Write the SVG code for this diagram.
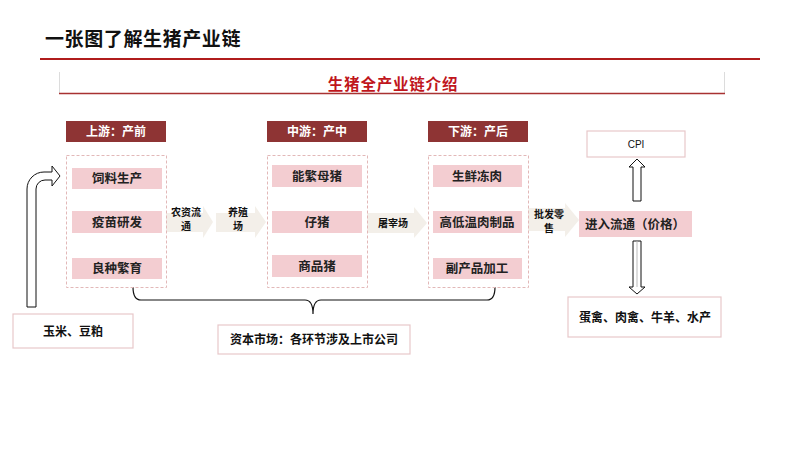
<svg xmlns="http://www.w3.org/2000/svg" width="800" height="450" viewBox="0 0 800 450">
<defs>
<style>
.cjk{font-family:"Noto Sans CJK SC","Liberation Sans",sans-serif;}
.hdr rect{fill:#8e3434;}
.hdr text{fill:#fff;font-size:12px;font-weight:bold;text-anchor:middle;}
.dash{fill:none;stroke:#e2b8b8;stroke-width:1;stroke-dasharray:3,2;}
.pink rect{fill:#f3cdd1;}
.pink text{fill:#222;font-size:12.5px;font-weight:bold;text-anchor:middle;}
.flow path{fill:#f3efe9;}
.flow text{fill:#111;font-size:10px;font-weight:bold;text-anchor:middle;}
.wbox rect{fill:#fff;stroke:#e8c8ca;stroke-width:1.2;}
.wbox text{fill:#111;font-size:12px;font-weight:bold;text-anchor:middle;}
.hollow{fill:#fff;stroke:#111;stroke-width:1;}
</style>
</defs>
<rect width="800" height="450" fill="#fff"/>
<g id="title" class="cjk">
<text x="45" y="46" font-size="19" font-weight="bold" fill="#111" letter-spacing="0.6">一张图了解生猪产业链</text>
<line x1="40" y1="59" x2="760" y2="59" stroke="#b01c1c" stroke-width="2.2"/>
</g>
<g id="subtitle" class="cjk">
<line x1="59.5" y1="72" x2="59.5" y2="93" stroke="#dcdcdc"/>
<line x1="724.5" y1="72" x2="724.5" y2="93" stroke="#dcdcdc"/>
<line x1="59" y1="93.5" x2="725" y2="93.5" stroke="#a83232" stroke-width="1.3"/>
<text x="393" y="90" font-size="15.5" font-weight="bold" fill="#c0161c" text-anchor="middle" letter-spacing="0.8">生猪全产业链介绍</text>
</g>
<g id="connectors" class="cjk">
<g class="flow">
<path d="M166,213 H203 V206 L213,222 L203,238 V232 H166 Z"/>
<text x="186" y="216">农资流</text><text x="186" y="230">通</text>
<path d="M216,213 H255 V206 L266,222 L255,238 V232 H216 Z"/>
<text x="238" y="216">养殖</text><text x="238" y="230">场</text>
<path d="M367,213 H414 V207 L427,223 L414,238 V233 H367 Z"/>
<text x="393" y="227">屠宰场</text>
<path d="M528,208 H565 V203 L579,220 L565,237 V231 H528 Z"/>
<text x="549" y="218">批发零</text><text x="549" y="232">售</text>
</g>
<path class="hollow" d="M27,307 V189 A17,17 0 0 1 44,172 H52 V166 L60,176 L52,186 V180 H45 A9,9 0 0 0 36,189 V307 Z"/>
<path class="hollow" d="M633,201 V167 H629 L637,159 L645,167 H641 V201 Z"/>
<path class="hollow" d="M633,241 H641 V287 H645 L637,294 L629,287 H633 Z"/>
<line x1="637" y1="241" x2="637" y2="287" stroke="#bbb" stroke-width="1"/>
<path d="M133,287 Q133,300 141,300 H305 Q313,300 313,314 Q313,300 321,300 H487 Q495,300 495,287" fill="none" stroke="#111" stroke-width="1.2"/>
</g>
<g id="upstream" class="cjk">
<g class="hdr"><rect x="66" y="121" width="100" height="21"/><text x="116" y="136">上游：产前</text></g>
<rect class="dash" x="66.5" y="155.5" width="100" height="132"/>
<g class="pink" id="feed"><rect x="72" y="168" width="90" height="21"/><text x="117" y="183">饲料生产</text></g>
<g class="pink" id="vaccine"><rect x="72" y="211" width="90" height="22"/><text x="117" y="227">疫苗研发</text></g>
<g class="pink" id="breed"><rect x="72" y="258" width="90" height="21"/><text x="117" y="273">良种繁育</text></g>
</g>
<g id="midstream" class="cjk">
<g class="hdr"><rect x="267" y="121" width="100" height="21"/><text x="317" y="136">中游：产中</text></g>
<rect class="dash" x="267.5" y="155.5" width="100" height="132"/>
<g class="pink" id="sow"><rect x="272" y="165" width="90" height="22"/><text x="317" y="181">能繁母猪</text></g>
<g class="pink" id="piglet"><rect x="272" y="211" width="90" height="22"/><text x="317" y="227">仔猪</text></g>
<g class="pink" id="hog"><rect x="272" y="255" width="90" height="22"/><text x="317" y="271">商品猪</text></g>
</g>
<g id="downstream" class="cjk">
<g class="hdr"><rect x="428" y="121" width="100" height="21"/><text x="478" y="136">下游：产后</text></g>
<rect class="dash" x="428.5" y="155.5" width="100" height="132"/>
<g class="pink" id="fresh"><rect x="433" y="165" width="89" height="22"/><text x="477" y="181">生鲜冻肉</text></g>
<g class="pink" id="meatprod"><rect x="433" y="211" width="89" height="22"/><text x="477" y="227">高低温肉制品</text></g>
<g class="pink" id="byprod"><rect x="433" y="258" width="89" height="21"/><text x="477" y="273">副产品加工</text></g>
</g>
<g id="circulation" class="cjk pink"><rect x="579" y="211" width="113" height="26"/><text x="635" y="229" font-size="13">进入流通（价格）</text></g>
<g id="cpi" class="wbox"><rect x="587" y="131" width="98" height="26"/><text x="636" y="148" style="font-family:'Liberation Sans',Arial,sans-serif;font-size:10px;font-weight:normal;fill:#111">CPI</text></g>
<g id="meats" class="wbox cjk"><rect x="568" y="297" width="153" height="40"/><text x="645" y="322">蛋禽、肉禽、牛羊、水产</text></g>
<g id="grain" class="wbox cjk"><rect x="13" y="314" width="120" height="34"/><text x="73" y="336">玉米、豆粕</text></g>
<g id="capital" class="wbox cjk"><rect x="218" y="325" width="192" height="29"/><text x="314" y="344">资本市场：各环节涉及上市公司</text></g>
</svg>
